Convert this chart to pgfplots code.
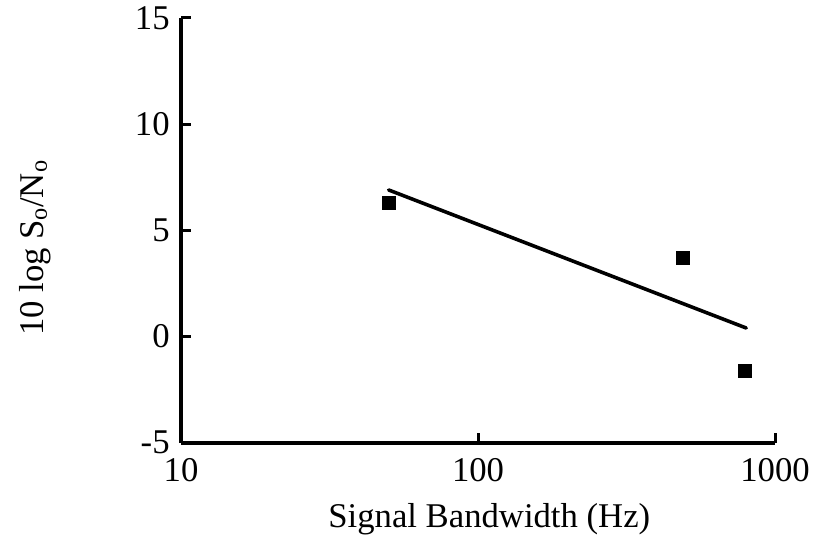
\documentclass[border=0pt]{standalone}
\usepackage{fontspec}
\setmainfont{Liberation Serif}
\usepackage{pgfplots}
\pgfplotsset{compat=1.18}
\begin{document}
\begin{tikzpicture}
\begin{axis}[
  scale only axis,
  width=597bp, height=427bp,
  xmode=log, log basis x=10,
  xmin=10, xmax=1000, ymin=-5, ymax=15,
  axis lines*=left,
  axis line style={line width=3.6bp, -},
  xtick={10,100,1000}, xticklabels={10,100,1000},
  ytick={-5,0,5,10,15},
  minor xtick={},
  tick align=inside,
  major tick length=10bp,
  every tick/.style={line width=3bp, black},
  tick label style={font=\fontsize{35}{40}\selectfont},
  /pgf/number format/assume math mode=true,
  xticklabel style={yshift=-12bp},
  yticklabel style={xshift=-8bp},
  xlabel={Signal Bandwidth (Hz)},
  ylabel={10 log S\textsubscript{o}/N\textsubscript{o}},
  label style={font=\fontsize{35}{40}\selectfont},
  xlabel style={at={(axis description cs:0.519,-0.18)}, anchor=center},
  ylabel style={at={(axis description cs:-0.246,0.458)}, anchor=center, rotate=0},
  clip=false,
]
% fitted trend
\addplot[black, line width=3.6bp, line cap=round] coordinates {(50,6.9) (800,0.4)};
% measured points
\addplot[only marks, mark=square*, mark size=6.5bp, black] coordinates {
  (50,6.3) (490,3.7) (790,-1.6)
};
\end{axis}
\path[use as bounding box] (-182bp,-106bp) rectangle (631bp,445bp);
\end{tikzpicture}
\end{document}
